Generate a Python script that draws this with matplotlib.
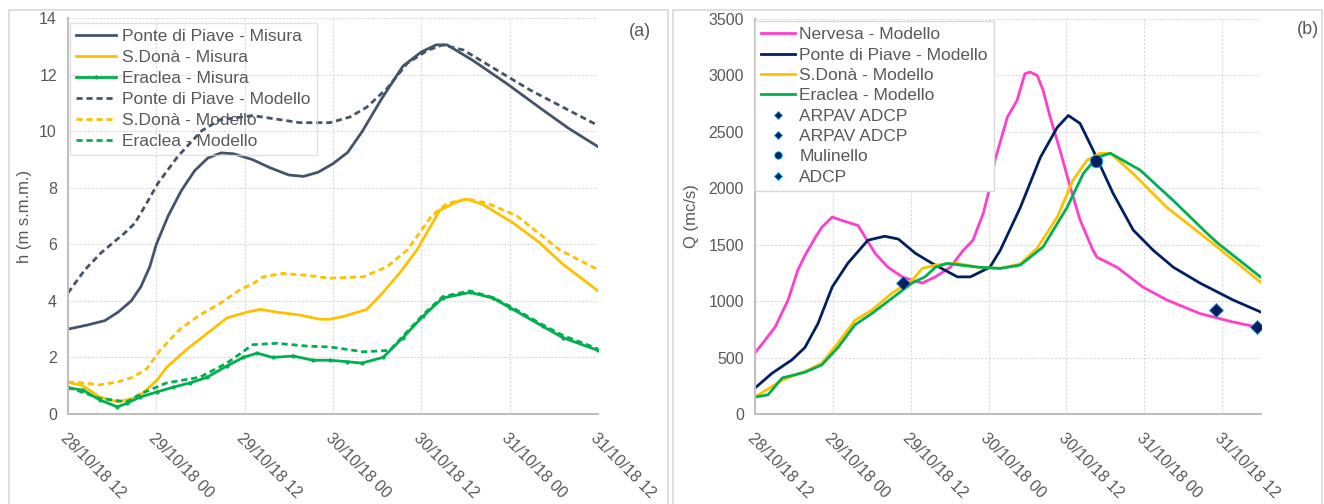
import matplotlib.pyplot as plt
from matplotlib.patches import Rectangle

plt.rcParams['font.family'] = ['Liberation Sans', 'DejaVu Sans']

# tick labels (12 h steps, x in hours from 28/10/18 12)
tick_hours = [0, 12, 24, 36, 48, 60, 72]
tick_labels = ["28/10/18 12", "29/10/18 00", "29/10/18 12", "30/10/18 00",
               "30/10/18 12", "31/10/18 00", "31/10/18 12"]

# ---- panel (a): water levels h (m s.m.m.)
pdp_mis_t = [0, 2.7, 5.0, 6.8, 8.6, 9.9, 11.1, 12.0, 13.6, 15.4, 17.2, 19.0, 20.8, 22.5, 25,
             27.5, 30, 32, 34, 36, 38, 40, 42.5, 45.5, 48, 50, 51.5, 55, 59.5, 64.5, 68, 72]
pdp_mis_h = [3.0, 3.15, 3.3, 3.6, 4.0, 4.5, 5.2, 6.0, 7.0, 7.9, 8.6, 9.05, 9.23, 9.2, 9.0,
             8.7, 8.45, 8.4, 8.55, 8.85, 9.25, 10.0, 11.1, 12.3, 12.8, 13.05, 13.05, 12.5, 11.7,
             10.75, 10.1, 9.45]

sdo_mis_t = [0, 2.0, 4.3, 6.8, 8.8, 10.2, 12.1, 13.4, 16.2, 18.9, 21.6, 24.3, 26.1, 28.4, 31.5,
             34.2, 35.6, 37.4, 40.6, 42.8, 45.1, 47.4, 50.5, 52.8, 54.2, 56.4, 60.5, 64.1, 67.2, 72]
sdo_mis_h = [1.12, 1.0, 0.6, 0.43, 0.55, 0.75, 1.2, 1.65, 2.3, 2.85, 3.4, 3.6, 3.7, 3.6, 3.5,
             3.35, 3.35, 3.45, 3.7, 4.3, 5.0, 5.8, 7.2, 7.5, 7.6, 7.4, 6.75, 6.05, 5.3, 4.35]

era_mis_t = [0, 2.0, 4.3, 6.7, 8.0, 9.8, 12.1, 14.3, 16.6, 18.9, 21.6, 23.8, 25.7, 27.8, 30.6,
             33.3, 35.6, 37.9, 39.9, 42.8, 45.5, 48.2, 50.9, 54.6, 57.7, 60.1, 64.5, 67.2, 72]
era_mis_h = [0.92, 0.85, 0.5, 0.25, 0.38, 0.6, 0.78, 0.95, 1.1, 1.3, 1.7, 2.0, 2.15, 2.0, 2.05,
             1.9, 1.9, 1.85, 1.8, 2.0, 2.7, 3.45, 4.1, 4.3, 4.1, 3.75, 3.1, 2.7, 2.25]

pdp_mod_t = [0, 2.3, 4.5, 7.7, 9.1, 10.9, 12.2, 14.9, 18.1, 20.6, 25.1, 31.5, 35.6, 38.3, 40.6,
             43.3, 46.1, 48.8, 50.9, 53.7, 58.3, 62.8, 67.2, 72]
pdp_mod_h = [4.28, 5.1, 5.7, 6.4, 6.75, 7.55, 8.15, 9.1, 10.0, 10.4, 10.55, 10.3, 10.3, 10.5,
             10.85, 11.5, 12.4, 12.85, 13.05, 12.87, 12.15, 11.45, 10.85, 10.2]

sdo_mod_t = [0, 2.0, 4.3, 6.7, 8.8, 10.7, 12.5, 15.2, 17.9, 20.6, 23.4, 25.1, 26.5, 29.2, 32.5,
             35.6, 40.1, 43.3, 46.1, 49.4, 51.5, 54.2, 57.0, 61.0, 66.8, 72]
sdo_mod_h = [1.13, 1.1, 1.03, 1.13, 1.3, 1.6, 2.25, 3.0, 3.5, 3.9, 4.4, 4.6, 4.85, 4.97, 4.9,
             4.8, 4.85, 5.2, 5.8, 7.0, 7.45, 7.6, 7.45, 7.0, 5.8, 5.1]

era_mod_t = [0, 4.3, 8.0, 10.2, 13.4, 17.9, 21.6, 25.1, 28.4, 32.5, 35.6, 40.1, 43.7, 45.5,
             48.2, 50.9, 54.6, 57.7, 60.1, 64.5, 67.2, 72]
era_mod_h = [0.95, 0.55, 0.43, 0.75, 1.1, 1.3, 1.8, 2.45, 2.5, 2.4, 2.37, 2.2, 2.25, 2.75,
             3.5, 4.15, 4.35, 4.12, 3.8, 3.15, 2.78, 2.3]

# ---- panel (b): discharge Q (mc/s)
ner_t = [0, 3.1, 5.1, 6.6, 7.7, 9.3, 10.3, 11.9, 13.4, 15.9, 17.0, 18.5, 20.5, 22.7, 24.2, 25.8,
         27.8, 30.1, 32.1, 33.6, 35.2, 36.2, 37.0, 38.9, 40.4, 41.6, 42.4, 43.5, 44.4, 45.5,
         47.0, 48.6, 50.1, 52.1, 52.7, 55.8, 59.8, 63.5, 68.6, 73.7, 77.4]
ner_q = [540, 770, 1010, 1275, 1405, 1565, 1655, 1745, 1715, 1670, 1565, 1425, 1300, 1215, 1185,
         1160, 1215, 1300, 1450, 1540, 1780, 2010, 2250, 2630, 2780, 3015, 3030, 3000, 2870, 2630,
         2340, 2010, 1720, 1450, 1390, 1300, 1125, 1010, 890, 815, 770]

pdpq_t = [0, 2.6, 5.7, 7.7, 9.7, 11.9, 14.3, 17.4, 20.0, 22.1, 24.7, 27.3, 31.2,
          33.2, 36.2, 37.8, 40.9, 44.0, 46.6, 48.3, 50.1, 52.1, 55.2, 58.3, 61.4, 64.5, 68.6,
          73.7, 77.9]
pdpq_q = [230, 360, 480, 590, 800, 1125, 1335, 1540, 1575, 1550, 1425, 1335, 1215,
          1215, 1300, 1450, 1830, 2275, 2540, 2645, 2575, 2340, 1955, 1630, 1450, 1300, 1160,
          1010, 905]

sdoq_t = [0, 4.2, 8.2, 10.3, 12.8, 15.4, 18.0, 21.1, 24.2, 25.8, 27.8, 31.2,
          34.2, 37.8, 40.9, 43.5, 46.6, 49.0, 51.2, 53.2, 54.8, 58.3, 63.5, 68.6, 70.6, 77.9]
sdoq_q = [150, 300, 390, 450, 630, 830, 920, 1070, 1185, 1290, 1320, 1335,
          1300, 1290, 1330, 1470, 1745, 2070, 2250, 2310, 2310, 2130, 1830, 1600, 1510, 1170]

eraq_t = [0, 2.0, 4.2, 7.7, 10.3, 12.8, 15.4, 18.0, 21.1, 24.2, 26.2, 27.8, 29.6, 31.6, 34.7,
          37.8, 40.9, 44.4, 48.1, 50.6, 52.7, 54.8, 59.4, 64.5, 69.7, 71.2, 77.9]
eraq_q = [150, 170, 320, 370, 435, 590, 790, 890, 1025, 1160, 1215, 1300, 1335, 1320, 1300,
          1290, 1320, 1480, 1830, 2130, 2275, 2310, 2160, 1890, 1600, 1520, 1215]

arpav1_t, arpav1_q = [22.8], [1160]
arpav2_t, arpav2_q = [77.4], [770]
mulinello_t, mulinello_q = [52.6], [2240]
adcp_t, adcp_q = [71.1], [920]

NAVY_GRAY = '#44546A'
YELLOW = '#FFC000'
GREEN = '#00B050'
PINK = '#FF3FCC'
NAVY = '#002060'
TXT = '#595959'
GRID = '#D9D9D9'

fig = plt.figure(figsize=(13.24, 5.04), dpi=100)
fig.patches.append(Rectangle((9 / 1324, -0.02), 659 / 1324, 1.0, transform=fig.transFigure,
                             fill=False, edgecolor=GRID, lw=1.2))
fig.patches.append(Rectangle((673 / 1324, -0.02), 649 / 1324, 1.0, transform=fig.transFigure,
                             fill=False, edgecolor=GRID, lw=1.2))

ax1 = fig.add_axes([68 / 1324, 90 / 504, 530 / 1324, 396 / 504])
ax2 = fig.add_axes([755 / 1324, 90 / 504, 506 / 1324, 395 / 504])

lw = 2.0
dash = (2.2, 1.4)
ax1.plot(pdp_mis_t, pdp_mis_h, color=NAVY_GRAY, lw=lw, label="Ponte di Piave - Misura")
ax1.plot(sdo_mis_t, sdo_mis_h, color=YELLOW, lw=lw, label="S.Donà - Misura")
ax1.plot(era_mis_t, era_mis_h, color=GREEN, lw=lw, marker='o', ms=2, label="Eraclea - Misura")
ax1.plot(pdp_mod_t, pdp_mod_h, color=NAVY_GRAY, lw=lw, dashes=dash, label="Ponte di Piave - Modello")
ax1.plot(sdo_mod_t, sdo_mod_h, color=YELLOW, lw=lw, dashes=dash, label="S.Donà - Modello")
ax1.plot(era_mod_t, era_mod_h, color=GREEN, lw=lw, dashes=dash, label="Eraclea - Modello")
ax1.set_xlim(0, 72)
ax1.set_ylim(0, 14)
ax1.set_yticks(range(0, 15, 2))
ax1.set_ylabel("h (m s.m.m.)", fontsize=12, color=TXT, labelpad=5)

ax2.plot(ner_t, ner_q, color=PINK, lw=lw, label="Nervesa - Modello")
ax2.plot(pdpq_t, pdpq_q, color=NAVY, lw=lw, label="Ponte di Piave - Modello")
ax2.plot(sdoq_t, sdoq_q, color=YELLOW, lw=lw, label="S.Donà - Modello")
ax2.plot(eraq_t, eraq_q, color=GREEN, lw=lw, label="Eraclea - Modello")
mk = dict(color=NAVY, mec='#00B0F0', mew=0.6, ls='none')
ax2.plot(arpav1_t, arpav1_q, marker='D', ms=7, label="ARPAV ADCP", **mk)
ax2.plot(arpav2_t, arpav2_q, marker='D', ms=7, label="ARPAV ADCP", **mk)
ax2.plot(mulinello_t, mulinello_q, marker='o', ms=9, label="Mulinello", **mk)
ax2.plot(adcp_t, adcp_q, marker='D', ms=7, label="ADCP", **mk)
ax2.set_xlim(0, 78)
ax2.set_ylim(0, 3500)
ax2.set_yticks(range(0, 3501, 500))
ax2.set_ylabel("Q (mc/s)", fontsize=12, color=TXT, labelpad=7)

for ax in (ax1, ax2):
    ax.set_xticks(tick_hours)
    ax.set_xticklabels(tick_labels, rotation=-45, ha='left', va='top', rotation_mode='anchor')
    ax.tick_params(axis='both', length=0, labelsize=11.5, labelcolor=TXT)
    ax.tick_params(axis='x', pad=12)
    ax.tick_params(axis='y', pad=8)
    ax.grid(True, color=GRID, ls=(0, (2, 1.5)), lw=0.8)
    ax.set_axisbelow(True)
    for s in ('top', 'right'):
        ax.spines[s].set_visible(False)
    for s in ('left', 'bottom'):
        ax.spines[s].set_color('#BFBFBF')
        ax.spines[s].set_linewidth(1.5)

leg1 = ax1.legend(loc='upper left', bbox_to_anchor=(2 / 530, 1 - 5 / 396), fontsize=12.5,
                  frameon=True, fancybox=False, edgecolor=GRID, facecolor='none',
                  handlelength=2.3, handletextpad=0.35, labelspacing=0.33, borderpad=0.35,
                  borderaxespad=0)
for t in leg1.get_texts():
    t.set_color(TXT)
leg2 = ax2.legend(loc='upper left', bbox_to_anchor=(0.0, 1 - 2 / 395), fontsize=12.5,
                  frameon=True, fancybox=False, edgecolor=GRID, facecolor='white', framealpha=1,
                  handlelength=1.95, handletextpad=0.25, labelspacing=0.3, borderpad=0.35,
                  borderaxespad=0, markerscale=0.6)
for t in leg2.get_texts():
    t.set_color(TXT)

fig.text(640 / 1324, 1 - 32 / 504, "(a)", fontsize=13, color=TXT, ha='center', va='center')
fig.text(1308 / 1324, 1 - 30 / 504, "(b)", fontsize=13, color=TXT, ha='center', va='center')

fig.savefig("out.png", dpi=100)
